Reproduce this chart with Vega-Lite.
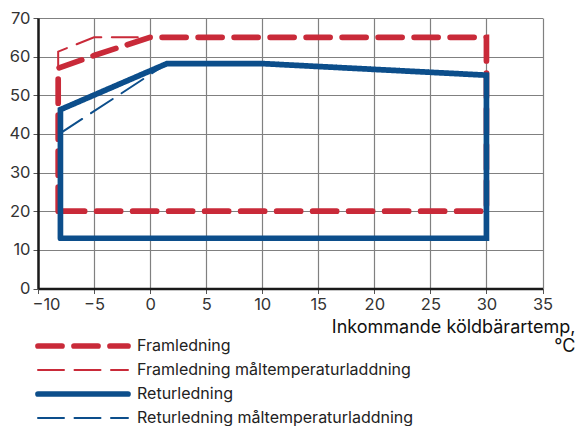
{
  "$schema": "https://vega.github.io/schema/vega-lite/v6.json",
  "width": 504.5,
  "height": 270.5,
  "autosize": {"type": "none"},
  "padding": {"left": 38, "top": 18, "right": 35.5, "bottom": 137.5},
  "background": "white",
  "config": {"font": "Inter", "view": {"stroke": null}},
  "data": {
    "values": [
      {"series": "Framledning", "i": 0, "x": -8.2, "y": 20},
      {"series": "Framledning", "i": 1, "x": -8.2, "y": 57},
      {"series": "Framledning", "i": 2, "x": -5, "y": 60.3},
      {"series": "Framledning", "i": 3, "x": 0, "y": 65},
      {"series": "Framledning", "i": 4, "x": 30, "y": 65},
      {"series": "Framledning", "i": 5, "x": 30, "y": 20},
      {"series": "Framledning", "i": 6, "x": -8.2, "y": 20},
      {"series": "Framledning måltemperaturladdning", "i": 0, "x": -8.2, "y": 57},
      {"series": "Framledning måltemperaturladdning", "i": 1, "x": -8.2, "y": 61.3},
      {"series": "Framledning måltemperaturladdning", "i": 2, "x": -5, "y": 65},
      {"series": "Framledning måltemperaturladdning", "i": 3, "x": 0, "y": 65},
      {"series": "Returledning", "i": 0, "x": -8, "y": 13},
      {"series": "Returledning", "i": 1, "x": -8, "y": 46.3},
      {"series": "Returledning", "i": 2, "x": 1.5, "y": 58.2},
      {"series": "Returledning", "i": 3, "x": 10, "y": 58.2},
      {"series": "Returledning", "i": 4, "x": 30, "y": 55.2},
      {"series": "Returledning", "i": 5, "x": 30, "y": 13},
      {"series": "Returledning", "i": 6, "x": -8, "y": 13},
      {"series": "Returledning måltemperaturladdning", "i": 0, "x": -8, "y": 40.2},
      {"series": "Returledning måltemperaturladdning", "i": 1, "x": 1.5, "y": 58.2}
    ]
  },
  "mark": {"type": "line", "strokeCap": "round", "strokeJoin": "miter"},
  "encoding": {
    "x": {
      "field": "x", "type": "quantitative",
      "scale": {"domain": [-10, 35], "nice": false, "zero": false},
      "axis": {
        "values": [-10, -5, 0, 5, 10, 15, 20, 25, 30, 35],
        "title": ["Inkommande köldbärartemp,", "°C"],
        "titleFont": "Inter", "titleFontSize": 18, "titleFontWeight": "normal", "titleColor": "#111",
        "titleAlign": "right", "titleX": 537, "titleY": 44, "titleBaseline": "alphabetic", "titleLineHeight": 19,
        "labelFont": "Inter", "labelFontSize": 16.5, "labelColor": "#333", "labelFlush": false,
        "labelOffset": {"condition": {"test": "datum.value === -10", "value": 8}, "value": 0},
        "tickSize": 5, "tickColor": "#555", "labelPadding": 3,
        "domainColor": "#1a1a1a", "domainWidth": 2.5,
        "grid": true, "gridColor": "#808080", "gridWidth": 1.2
      }
    },
    "y": {
      "field": "y", "type": "quantitative",
      "scale": {"domain": [0, 70], "nice": false},
      "axis": {
        "values": [0, 10, 20, 30, 40, 50, 60, 70],
        "title": null,
        "labelFont": "Inter", "labelFontSize": 16.5, "labelColor": "#333",
        "tickSize": 5, "tickColor": "#555", "labelPadding": 3,
        "domainColor": "#1a1a1a", "domainWidth": 2.5,
        "grid": true, "gridColor": "#808080", "gridWidth": 1.2
      }
    },
    "order": {"field": "i", "type": "quantitative"},
    "color": {
      "field": "series", "type": "nominal",
      "scale": {
        "domain": ["Framledning", "Framledning måltemperaturladdning", "Returledning", "Returledning måltemperaturladdning"],
        "range": ["#c92a39", "#c92a39", "#0c4e8b", "#0c4e8b"]
      },
      "legend": {
        "title": null, "orient": "none", "legendX": -8, "legendY": 320,
        "symbolType": "M0,0H20", "symbolSize": 81, "labelOffset": 91, "labelLimit": 0,
        "labelFont": "Inter", "labelFontSize": 16, "labelColor": "#222", "rowPadding": 4, "padding": 0,
        "encode": {"symbols": {"update": {"strokeCap": {"value": "round"}}}}
      }
    },
    "strokeDash": {
      "field": "series", "type": "nominal",
      "scale": {
        "domain": ["Framledning", "Framledning måltemperaturladdning", "Returledning", "Returledning måltemperaturladdning"],
        "range": [[24, 12], [26, 10.5], [1, 0], [26, 10.5]]
      },
      "legend": {
        "title": null, "orient": "none", "legendX": -8, "legendY": 320,
        "symbolType": "M0,0H20", "symbolSize": 81, "labelOffset": 91, "labelLimit": 0,
        "labelFont": "Inter", "labelFontSize": 16, "labelColor": "#222", "rowPadding": 4, "padding": 0
      }
    },
    "strokeWidth": {
      "field": "series", "type": "nominal",
      "scale": {
        "type": "ordinal",
        "domain": ["Framledning", "Framledning måltemperaturladdning", "Returledning", "Returledning måltemperaturladdning"],
        "range": [5.7, 2, 5.7, 2]
      },
      "legend": {
        "title": null, "orient": "none", "legendX": -8, "legendY": 320,
        "symbolType": "M0,0H20", "symbolSize": 81, "labelOffset": 91, "labelLimit": 0,
        "labelFont": "Inter", "labelFontSize": 16, "labelColor": "#222", "rowPadding": 4, "padding": 0
      }
    }
  }
}
